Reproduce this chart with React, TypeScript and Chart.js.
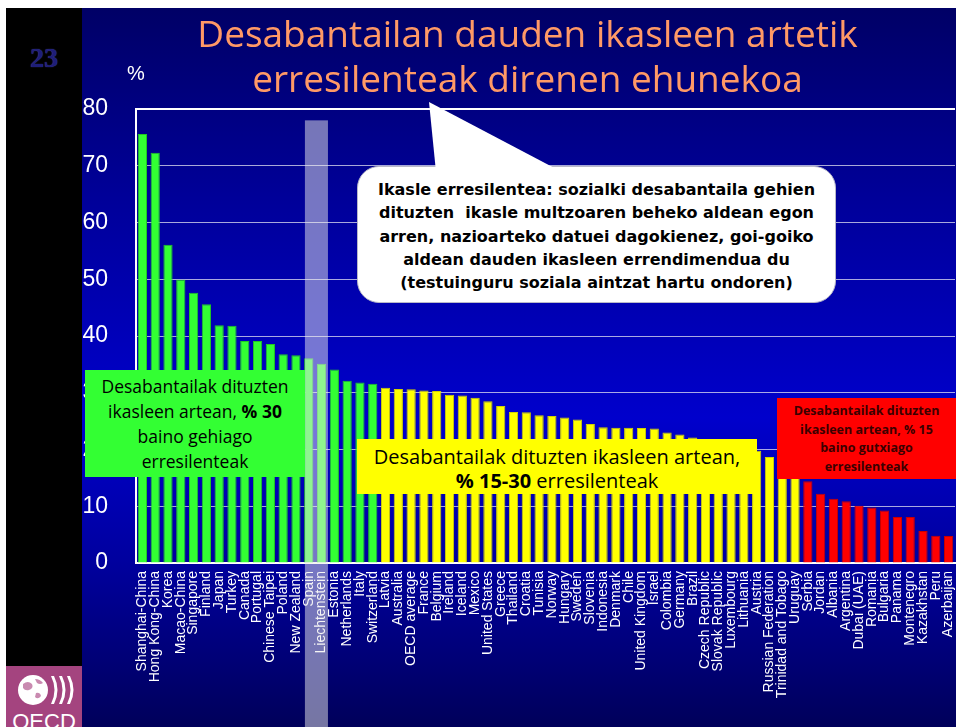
import React, { useEffect, useRef } from "react";
import { Chart, registerables } from "chart.js";

Chart.register(...registerables);

// ---------- DATA ----------
const categories = [
  "Shanghai-China", "Hong Kong-China", "Korea", "Macao-China", "Singapore", "Finland",
  "Japan", "Turkey", "Canada", "Portugal", "Chinese Taipei", "Poland", "New Zealand",
  "Spain", "Liechtenstein", "Estonia", "Netherlands", "Italy", "Switzerland", "Latvia",
  "Australia", "OECD average", "France", "Belgium", "Ireland", "Iceland", "Mexico",
  "United States", "Greece", "Thailand", "Croatia", "Tunisia", "Norway", "Hungary",
  "Sweden", "Slovenia", "Indonesia", "Denmark", "Chile", "United Kingdom", "Israel",
  "Colombia", "Germany", "Brazil", "Czech Republic", "Slovak Republic", "Luxembourg",
  "Lithuania", "Austria", "Russian Federation", "Trinidad and Tobago", "Uruguay",
  "Serbia", "Jordan", "Albania", "Argentina", "Dubai (UAE)", "Romania", "Bulgaria",
  "Panama", "Montenegro", "Kazakhstan", "Peru", "Azerbaijan",
];

const resilientShare = [
  75.6, 72.3, 56.1, 49.9, 47.6, 45.6, 41.9, 41.8, 39.1, 39.1,
  38.6, 36.8, 36.6, 36.1, 35.1, 34.1, 32.1, 31.8, 31.6, 30.9,
  30.65, 30.6, 30.4, 30.3, 29.65, 29.5, 29.1, 28.5, 27.65, 26.6,
  26.55, 26.05, 25.9, 25.65, 25.3, 24.5, 23.9, 23.85, 23.85, 23.8,
  23.7, 23.0, 22.65, 22.1, 21.5, 21.3, 21.2, 20.8, 19.8, 18.7,
  16.5, 15.3, 14.4, 12.2, 11.3, 10.9, 10.1, 9.8, 9.25, 8.1,
  8.1, 5.65, 4.8, 4.75,
];

// number of bars in each band: >30 %, 15-30 %, <15 %
const groupSizes = [19, 33, 12];
const groupFill = ["#33ff33", "#ffff00", "#ff0000"];
const groupEdge = ["#22c822", "#d2d200", "#c80000"];

const yMin = 0;
const yMax = 80;
const yStep = 10;

const highlighted = ["Spain", "Liechtenstein"];
const highlightTop = 78;

const titleLines = ["Desabantailan dauden ikasleen artetik", "erresilenteak direnen ehunekoa"];
const calloutLines = [
  "Ikasle erresilentea: sozialki desabantaila gehien",
  "dituzten  ikasle multzoaren beheko aldean egon",
  "arren, nazioarteko datuei dagokienez, goi-goiko",
  "aldean dauden ikasleen errendimendua du",
  "(testuinguru soziala aintzat hartu ondoren)",
];

function groupOf(i: number): number {
  let acc = 0;
  for (let g = 0; g < groupSizes.length; g++) {
    acc += groupSizes[g];
    if (i < acc) return g;
  }
  return groupSizes.length - 1;
}

const highlightPlugin = {
  id: "spainHighlight",
  afterDraw(chart: any) {
    const xs = chart.scales.x;
    const ys = chart.scales.y;
    const i0 = categories.indexOf(highlighted[0]);
    const i1 = categories.indexOf(highlighted[1]);
    const step = xs.getPixelForValue(1) - xs.getPixelForValue(0);
    const left = xs.getPixelForValue(i0) - step * 0.3;
    const right = xs.getPixelForValue(i1) + step * 0.5;
    const top = ys.getPixelForValue(highlightTop);
    const ctx = chart.ctx;
    ctx.save();
    ctx.fillStyle = "rgba(236,236,236,0.5)";
    ctx.fillRect(left, top, right - left, chart.height - top);
    ctx.restore();
  },
};

function BarChart() {
  const ref = useRef<HTMLCanvasElement | null>(null);
  useEffect(() => {
    if (!ref.current) return;
    const chart = new Chart(ref.current, {
      type: "bar",
      data: {
        labels: categories,
        datasets: [
          {
            data: resilientShare,
            backgroundColor: resilientShare.map((_, i) => groupFill[groupOf(i)]),
            borderColor: resilientShare.map((_, i) => groupEdge[groupOf(i)]),
            borderWidth: 1,
            categoryPercentage: 1,
            barPercentage: 0.72,
          },
        ],
      },
      options: {
        animation: false,
        responsive: false,
        maintainAspectRatio: false,
        layout: { padding: { left: 82, top: 109, right: 1, bottom: 0 } },
        plugins: { legend: { display: false }, tooltip: { enabled: false } },
        scales: {
          x: {
            grid: { display: false, drawTicks: false },
            border: { display: true, color: "#ffffff", width: 2 },
            ticks: {
              color: "#ffffff",
              font: { family: "'Liberation Sans', Arial, sans-serif", size: 14 },
              minRotation: 90,
              maxRotation: 90,
              autoSkip: false,
              padding: 8,
            },
            afterFit: (s: any) => {
              s.height = 164;
              s.paddingLeft = 0;
              s.paddingRight = 0;
            },
          },
          y: {
            min: yMin,
            max: yMax,
            ticks: {
              stepSize: yStep,
              color: "#ffffff",
              font: { family: "'Liberation Sans', Arial, sans-serif", size: 23 },
              padding: 28,
            },
            grid: {
              drawTicks: false,
              color: (c: any) => (c.tick && c.tick.value === yMax ? "#ffffff" : "rgba(225,225,240,0.75)"),
              lineWidth: (c: any) => (c.tick && c.tick.value === yMax ? 2 : 1),
            },
            border: { display: true, color: "#ffffff", width: 2 },
            afterFit: (s: any) => {
              s.width = 54;
              s.paddingTop = 0;
              s.paddingBottom = 0;
            },
          },
        },
      },
      plugins: [highlightPlugin],
    } as any);
    return () => chart.destroy();
  }, []);
  return (
    <canvas
      ref={ref}
      width={956}
      height={727}
      style={{ position: "absolute", left: 0, top: 0, width: 956, height: 727 }}
    />
  );
}

export default function App() {
  useEffect(() => {
    document.body.style.margin = "0";
  }, []);

  const comic = "'Open Sans', 'DejaVu Sans', sans-serif";

  return (
    <div
      style={{
        position: "relative",
        width: 956,
        height: 727,
        background: "#ffffff",
        overflow: "hidden",
      }}
    >
      {/* slide background */}
      <div
        style={{
          position: "absolute",
          left: 82,
          top: 8,
          width: 874,
          height: 719,
          background:
            "linear-gradient(to bottom, #000066 0%, #00009a 27%, #0000cc 57%, #00009e 77%, #00005a 100%)",
        }}
      />
      {/* left black strip */}
      <div style={{ position: "absolute", left: 6, top: 8, width: 76, height: 658, background: "#000000" }} />
      <div
        style={{
          position: "absolute",
          left: 6,
          top: 42,
          width: 76,
          textAlign: "center",
          font: "bold 28px 'Liberation Serif', serif",
          color: "#1e1e78",
          textShadow: "0 0 1px #5050b0",
        }}
      >
        23
      </div>
      {/* OECD logo */}
      <svg style={{ position: "absolute", left: 6, top: 666 }} width={76} height={61}>
        <rect x={0} y={0} width={76} height={61} fill="#a4447f" />
        <circle cx={27} cy={24} r={15} fill="#ffffff" />
        <path d="M17 18 q5 -4 9 0 q2 4 -3 6 q-4 1 -6 -2z M29 13 q5 0 8 4 q-3 2 -6 0z M30 27 q4 -1 5 3 q-3 4 -6 1z" fill="#c98ab0" />
        <path d="M45 10 q7 14 0 28 l3 0 q7 -14 0 -28z" fill="#ffffff" />
        <path d="M53 10 q7 14 0 28 l3 0 q7 -14 0 -28z" fill="#ffffff" />
        <path d="M61 10 q7 14 0 28 l3 0 q7 -14 0 -28z" fill="#ffffff" />
        <text x={38} y={63} textAnchor="middle" fill="#ffffff" style={{ font: "22px 'Liberation Sans', Arial, sans-serif" }}>
          OECD
        </text>
      </svg>

      <BarChart />

      {/* title */}
      {titleLines.map((t, i) => (
        <div
          key={t}
          style={{
            position: "absolute",
            left: 527.5,
            top: 10 + i * 45,
            transform: "translateX(-50%)",
            whiteSpace: "nowrap",
            font: `37px ${comic}`,
            lineHeight: "45px",
            color: "#ff9966",
          }}
        >
          {t}
        </div>
      ))}
      <div
        style={{
          position: "absolute",
          left: 127,
          top: 62,
          font: "20px 'Liberation Sans', Arial, sans-serif",
          color: "#ffffff",
        }}
      >
        %
      </div>

      {/* callout */}
      <div
        style={{
          position: "absolute",
          left: 357,
          top: 166,
          width: 479,
          height: 137,
          boxSizing: "border-box",
          background: "#ffffff",
          border: "1px solid #b8b8c8",
          borderRadius: 22,
          paddingTop: 11,
          textAlign: "center",
          font: "bold 16px 'DejaVu Sans', Verdana, sans-serif",
          lineHeight: "23.3px",
          color: "#000000",
        }}
      >
        {calloutLines.map((t) => (
          <div key={t} style={{ whiteSpace: "pre" }}>
            {t}
          </div>
        ))}
      </div>
      <svg style={{ position: "absolute", left: 0, top: 0 }} width={956} height={200}>
        <polygon points="429,102 436,172 562,172" fill="#ffffff" />
      </svg>

      {/* green band box */}
      <div
        style={{
          position: "absolute",
          left: 85,
          top: 370,
          width: 220,
          height: 107,
          boxSizing: "border-box",
          background: "#33ff33",
          paddingTop: 4,
          textAlign: "center",
          font: `17.5px ${comic}`,
          lineHeight: "25px",
          color: "#000000",
        }}
      >
        <div>Desabantailak dituzten</div>
        <div>
          ikasleen artean, <b>% 30</b>
        </div>
        <div>baino gehiago</div>
        <div>erresilenteak</div>
      </div>

      {/* yellow band box */}
      <div
        style={{
          position: "absolute",
          left: 357,
          top: 439,
          width: 400,
          height: 55,
          boxSizing: "border-box",
          background: "#ffff00",
          paddingTop: 6,
          textAlign: "center",
          font: `20px ${comic}`,
          lineHeight: "24px",
          color: "#000000",
        }}
      >
        <div>Desabantailak dituzten ikasleen artean,</div>
        <div>
          <b>% 15-30</b> erresilenteak
        </div>
      </div>

      {/* red band box */}
      <div
        style={{
          position: "absolute",
          left: 777,
          top: 398,
          width: 179,
          height: 81,
          boxSizing: "border-box",
          background: "#ff0000",
          paddingTop: 4,
          textAlign: "center",
          font: `bold 12.5px ${comic}`,
          lineHeight: "18.5px",
          color: "#3a0000",
        }}
      >
        <div>Desabantailak dituzten</div>
        <div>ikasleen artean, % 15</div>
        <div>baino gutxiago</div>
        <div>erresilenteak</div>
      </div>
    </div>
  );
}
